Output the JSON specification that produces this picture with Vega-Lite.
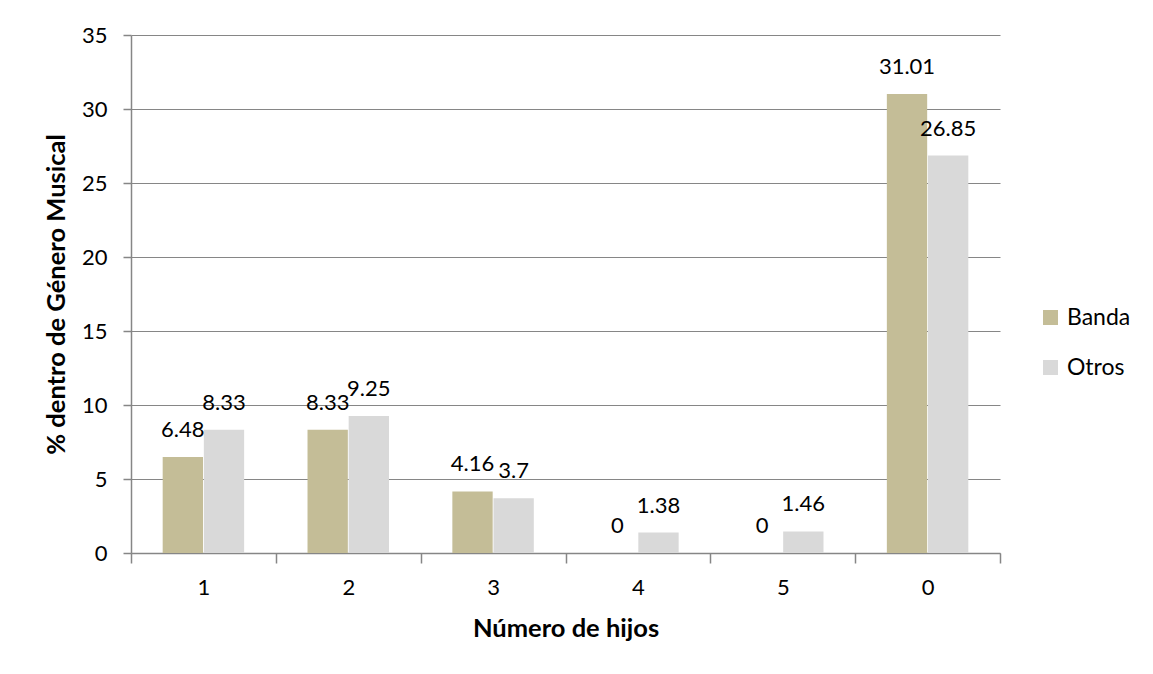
{
  "$schema": "https://vega.github.io/schema/vega-lite/v6.json",
  "autosize": {"type": "none"},
  "padding": {"left": 131, "top": 35, "right": 153, "bottom": 121},
  "width": 869,
  "height": 518,
  "background": "white",
  "config": {
    "view": {"stroke": null},
    "font": "Lato",
    "axis": {
      "labelFont": "Lato", "labelFontSize": 22, "labelColor": "black",
      "titleFont": "Lato", "titleFontSize": 25.5, "titleFontWeight": "bold", "titleColor": "black",
      "domainColor": "#868686", "tickColor": "#868686", "gridColor": "#868686",
      "domainWidth": 1.5, "tickWidth": 1.5, "gridWidth": 1.2
    },
    "legend": {"labelFont": "Lato", "labelFontSize": 23, "labelColor": "black"}
  },
  "data": {
    "values": [
      {"hijos": "1", "serie": "Banda", "valor": 6.48},
      {"hijos": "1", "serie": "Otros", "valor": 8.33},
      {"hijos": "2", "serie": "Banda", "valor": 8.33},
      {"hijos": "2", "serie": "Otros", "valor": 9.25},
      {"hijos": "3", "serie": "Banda", "valor": 4.16},
      {"hijos": "3", "serie": "Otros", "valor": 3.7},
      {"hijos": "4", "serie": "Banda", "valor": 0},
      {"hijos": "4", "serie": "Otros", "valor": 1.38},
      {"hijos": "5", "serie": "Banda", "valor": 0},
      {"hijos": "5", "serie": "Otros", "valor": 1.46},
      {"hijos": "0", "serie": "Banda", "valor": 31.01},
      {"hijos": "0", "serie": "Otros", "valor": 26.85}
    ]
  },
  "encoding": {
    "x": {
      "field": "hijos", "type": "nominal", "sort": ["1", "2", "3", "4", "5", "0"],
      "scale": {"paddingInner": 0, "paddingOuter": 0},
      "axis": {"title": "Número de hijos", "labelAngle": 0, "tickBand": "extent", "tickSize": 10, "labelPadding": 14, "titlePadding": 18, "grid": false}
    },
    "xOffset": {
      "field": "serie", "type": "nominal",
      "scale": {"paddingInner": 0.02, "paddingOuter": 0.77}
    },
    "y": {
      "field": "valor", "type": "quantitative",
      "scale": {"domain": [0, 35], "nice": false},
      "axis": {"title": "% dentro de Género Musical", "values": [0, 5, 10, 15, 20, 25, 30, 35], "tickSize": 8, "labelPadding": 16, "titlePadding": 12, "grid": true}
    }
  },
  "layer": [
    {
      "mark": {"type": "bar"},
      "encoding": {
        "color": {
          "field": "serie", "type": "nominal",
          "scale": {"domain": ["Banda", "Otros"], "range": ["#c4bd97", "#d9d9d9"]},
          "legend": {"title": null, "orient": "none", "legendX": 908, "legendY": 271, "symbolType": "square", "symbolSize": 225, "symbolStrokeWidth": 0, "rowPadding": 26, "labelOffset": 5}
        }
      }
    },
    {
      "mark": {"type": "text", "baseline": "middle", "align": "center", "dy": -27, "fontSize": 22, "font": "Lato", "color": "black"},
      "encoding": {
        "text": {"field": "valor", "type": "nominal"}
      }
    }
  ]
}
